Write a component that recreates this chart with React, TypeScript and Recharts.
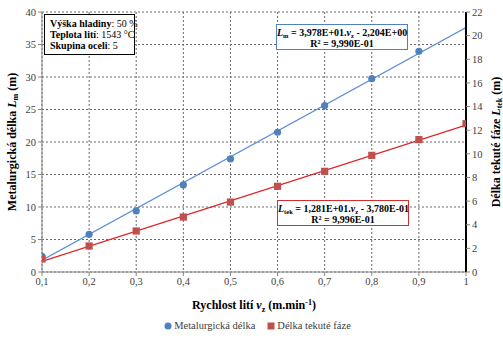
import React from 'react'
import { ComposedChart, Line, Scatter, XAxis, YAxis, CartesianGrid, Legend, Label } from 'recharts'

// rychlost liti v_z (m/min)
const rychlost = [0.1, 0.2, 0.3, 0.4, 0.5, 0.6, 0.7, 0.8, 0.9]
const metalurgicka = [2.4, 5.8, 9.4, 13.4, 17.4, 21.5, 25.6, 29.75, 33.95]
const rychlostTek = [0.1, 0.2, 0.3, 0.4, 0.5, 0.6, 0.7, 0.8, 0.9, 1]
const tekuta = [1.1, 2.2, 3.47, 4.65, 5.92, 7.25, 8.52, 9.87, 11.2, 12.55]

// trendlines (endpoints)
const trendX = [0.1, 1]
const trendMetal = [1.8, 37.6]
const trendTek = [0.9, 12.43]

const xTicks = [0.1, 0.2, 0.3, 0.4, 0.5, 0.6, 0.7, 0.8, 0.9, 1]
const leftTicks = [0, 5, 10, 15, 20, 25, 30, 35, 40]
const rightTicks = [0, 2, 4, 6, 8, 10, 12, 14, 16, 18, 20, 22]

const metalData = rychlost.map((x, i) => ({ x, y: metalurgicka[i] }))
const tekData = rychlostTek.map((x, i) => ({ x, y: tekuta[i] }))
const metalTrend = trendX.map((x, i) => ({ x, y: trendMetal[i] }))
const tekTrend = trendX.map((x, i) => ({ x, y: trendTek[i] }))

const SERIF = "'Times New Roman', 'Liberation Serif', 'DejaVu Serif', serif"
const BLUE = '#4f81bd'
const BLUE_LINE = '#5b8fd6'
const RED = '#c0504d'
const RED_LINE = '#e02020'
const tickStyle = { fill: '#404040', fontSize: 10.5, fontFamily: SERIF }

const fmt = (v: number) => String(v).replace('.', ',')

const Dot = (p: any) => <circle cx={p.cx} cy={p.cy} r={3.6} fill={BLUE} />
const Sq = (p: any) => <rect x={p.cx - 3.6} y={p.cy - 3.6} width={7.2} height={7.2} fill={RED} />

function LeftTitle(props: any) {
  const vb = props.viewBox || { x: 0, y: 12, width: 42, height: 260 }
  const cx = 12
  const cy = vb.y + vb.height / 2
  return (
    <text x={cx} y={cy} transform={`rotate(-90 ${cx} ${cy})`} textAnchor="middle" dominantBaseline="central"
      fontFamily={SERIF} fontSize={12} fontWeight="bold" fill="#000">
      Metalurgická délka  <tspan fontStyle="italic">L</tspan><tspan fontSize={8} dy={3}>m</tspan><tspan dy={-3}>  (m)</tspan>
    </text>
  )
}

function RightTitle(props: any) {
  const vb = props.viewBox || { x: 466, y: 12, width: 37, height: 260 }
  const cx = 496
  const cy = vb.y + vb.height / 2
  return (
    <text x={cx} y={cy} transform={`rotate(-90 ${cx} ${cy})`} textAnchor="middle" dominantBaseline="central"
      fontFamily={SERIF} fontSize={12} fontWeight="bold" fill="#000">
      Délka tekuté fáze  <tspan fontStyle="italic">L</tspan><tspan fontSize={8} dy={3}>tek</tspan><tspan dy={-3}>  (m)</tspan>
    </text>
  )
}

function XTitle() {
  return (
    <text x={254} y={309} textAnchor="middle" fontFamily={SERIF} fontSize={12} fontWeight="bold" fill="#000">
      Rychlost lití  <tspan fontStyle="italic">v</tspan><tspan fontSize={8} dy={3}>z</tspan><tspan dy={-3}>  (m.min</tspan><tspan fontSize={8} dy={-4}>-1</tspan><tspan dy={4}>)</tspan>
    </text>
  )
}

function LegendBox() {
  return (
    <div style={{ display: 'flex', justifyContent: 'center', alignItems: 'center', fontFamily: SERIF, fontSize: 10.5, color: '#404040', paddingLeft: 12, marginTop: 3, whiteSpace: 'nowrap' }}>
      <svg width={8} height={8} style={{ marginRight: 2 }}><circle cx={4} cy={4} r={3.5} fill={BLUE} /></svg>
      <span style={{ marginRight: 12 }}>Metalurgická délka</span>
      <svg width={8} height={8} style={{ marginRight: 2 }}><rect x={0.5} y={0.5} width={7} height={7} fill={RED} /></svg>
      <span>Délka tekuté fáze</span>
    </div>
  )
}

const boxText = { position: 'absolute' as const, fontFamily: SERIF, fontSize: 10, color: '#000', background: '#fff', lineHeight: '11px', boxSizing: 'border-box' as const, whiteSpace: 'nowrap' as const }
const sub = { fontSize: 6.5, lineHeight: 0, verticalAlign: -2 }

export default function App() {
  return (
    <div style={{ position: 'absolute', left: 0, top: 0, width: 503, height: 341, background: '#fff' }}>
      <ComposedChart width={503} height={341} margin={{ top: 12, right: 0, bottom: 0, left: 0 }}>
        <CartesianGrid yAxisId="left" stroke="#6a6a6a" strokeDasharray="2 2" />
        <XAxis type="number" dataKey="x" domain={[0.1, 1]} ticks={xTicks} tickFormatter={fmt}
          tick={tickStyle} height={45} allowDataOverflow
          axisLine={{ stroke: '#868686' }} tickLine={{ stroke: '#868686' }} tickSize={4} interval={0}>
          <Label content={<XTitle />} />
        </XAxis>
        <YAxis yAxisId="left" domain={[0, 40]} ticks={leftTicks} tick={tickStyle} width={42}
          axisLine={{ stroke: '#868686' }} tickLine={{ stroke: '#868686' }} tickSize={4} interval={0}>
          <Label content={<LeftTitle />} />
        </YAxis>
        <YAxis yAxisId="right" orientation="right" domain={[0, 22]} ticks={rightTicks} tick={tickStyle} width={37}
          axisLine={{ stroke: '#000', strokeWidth: 2 }} tickLine={{ stroke: '#868686' }} tickSize={4} interval={0}>
          <Label content={<RightTitle />} />
        </YAxis>
        <Legend verticalAlign="bottom" height={24} content={<LegendBox />} />
        <Line yAxisId="left" data={metalTrend} dataKey="y" stroke={BLUE_LINE} strokeWidth={1.3} dot={false} isAnimationActive={false} legendType="none" />
        <Line yAxisId="right" data={tekTrend} dataKey="y" stroke={RED_LINE} strokeWidth={1.3} dot={false} isAnimationActive={false} legendType="none" />
        <Scatter yAxisId="left" data={metalData} dataKey="y" name="Metalurgická délka" shape={Dot} isAnimationActive={false} />
        <Scatter yAxisId="right" data={tekData} dataKey="y" name="Délka tekuté fáze" shape={Sq} isAnimationActive={false} />
      </ComposedChart>

      <div style={{ ...boxText, left: 44, top: 14, width: 91, height: 41, border: '1.5px solid #000', padding: '3px 0 0 5px' }}>
        <div><b>Výška hladiny</b>: 50 %</div>
        <div><b>Teplota lití</b>: 1543 °C</div>
        <div><b>Skupina oceli</b>:  5</div>
      </div>

      <div style={{ ...boxText, left: 276, top: 24, width: 132, height: 26, border: `1.2px solid ${BLUE}`, textAlign: 'center', fontWeight: 'bold', paddingTop: 2 }}>
        <div><i>L</i><sub style={sub}>m</sub> = 3,978E+01.<i>v</i><sub style={sub}>z</sub> - 2,204E+00</div>
        <div>R² = 9,990E-01</div>
      </div>

      <div style={{ ...boxText, left: 277, top: 200, width: 132, height: 26, border: '1.2px solid #d03030', textAlign: 'center', fontWeight: 'bold', paddingTop: 2 }}>
        <div><i>L</i><sub style={sub}>tek</sub> = 1,281E+01.<i>v</i><sub style={sub}>z</sub> - 3,780E-01</div>
        <div>R² = 9,996E-01</div>
      </div>
    </div>
  )
}
